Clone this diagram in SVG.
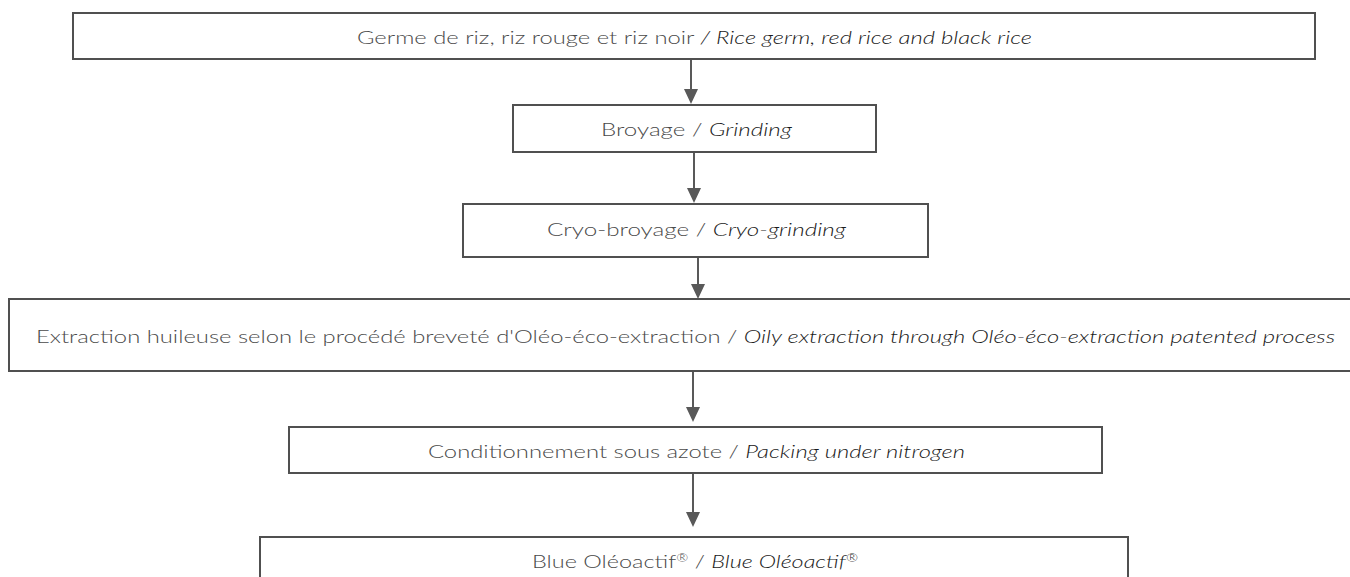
<svg xmlns="http://www.w3.org/2000/svg" width="1350" height="577" viewBox="0 0 1350 577">
<defs>
<style>
.box{fill:#ffffff;stroke:#505050;stroke-width:2}
.lbl{font-family:"Lato","Noto Sans","Liberation Sans",sans-serif;font-size:18px;font-weight:300;fill:#4a4a4a}
.it{font-style:italic;fill:#1a1a1a}
.sup{font-size:11px}
.conn{stroke:#595959;stroke-width:2;fill:none}
</style>
<marker id="ah" markerUnits="userSpaceOnUse" markerWidth="15" markerHeight="14" viewBox="0 0 15 14" refX="3" refY="7" orient="auto">
<path d="M0,0 L15,7 L0,14 z" fill="#595959"/>
</marker>
</defs>
<rect width="1350" height="577" fill="#ffffff"/>
<g id="connectors">
<line class="conn" x1="691" y1="59" x2="691" y2="92" marker-end="url(#ah)"/>
<line class="conn" x1="694" y1="152" x2="694" y2="191" marker-end="url(#ah)"/>
<line class="conn" x1="698" y1="257" x2="698" y2="287" marker-end="url(#ah)"/>
<line class="conn" x1="693" y1="371" x2="693" y2="410" marker-end="url(#ah)"/>
<line class="conn" x1="693" y1="473" x2="693" y2="515" marker-end="url(#ah)"/>
</g>
<g id="node1">
<rect class="box" x="73" y="13" width="1242" height="46"/>
<text class="lbl" x="357" y="44" textLength="675" lengthAdjust="spacingAndGlyphs">Germe de riz, riz rouge et riz noir <tspan class="it">/ Rice germ, red rice and black rice</tspan></text>
</g>
<g id="node2">
<rect class="box" x="513" y="105" width="363" height="47"/>
<text class="lbl" x="601" y="136" textLength="191" lengthAdjust="spacingAndGlyphs">Broyage / <tspan class="it">Grinding</tspan></text>
</g>
<g id="node3">
<rect class="box" x="463" y="204" width="465" height="53"/>
<text class="lbl" x="547" y="236" textLength="299" lengthAdjust="spacingAndGlyphs">Cryo-broyage / <tspan class="it">Cryo-grinding</tspan></text>
</g>
<g id="node4">
<rect class="box" x="9" y="299" width="1360" height="72"/>
<text class="lbl" x="36" y="343" textLength="1299" lengthAdjust="spacingAndGlyphs">Extraction huileuse selon le procédé breveté d'Oléo-éco-extraction / <tspan class="it">Oily extraction through Oléo-éco-extraction patented process</tspan></text>
</g>
<g id="node5">
<rect class="box" x="289" y="427" width="813" height="46"/>
<text class="lbl" x="428" y="458" textLength="537" lengthAdjust="spacingAndGlyphs">Conditionnement sous azote / <tspan class="it">Packing under nitrogen</tspan></text>
</g>
<g id="node6">
<rect class="box" x="260" y="537" width="868" height="60"/>
<text class="lbl" x="532" y="568" textLength="326" lengthAdjust="spacingAndGlyphs">Blue Oléoactif<tspan class="sup" dy="-6">®</tspan><tspan dy="6"> / </tspan><tspan class="it">Blue Oléoactif</tspan><tspan class="it sup" dy="-6">®</tspan></text>
</g>
</svg>
